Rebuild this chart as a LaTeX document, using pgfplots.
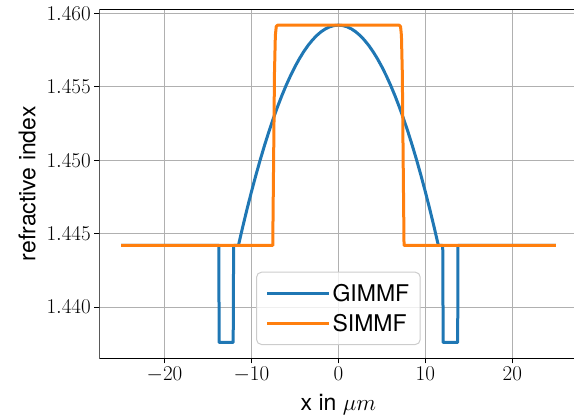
\documentclass[border=0pt]{standalone}
\usepackage{fix-cm}
\usepackage[no-math]{fontspec}
\usepackage{pgfplots}
\pgfplotsset{compat=1.18}
\newfontfamily\lab{TeX Gyre Heros}
\definecolor{mblue}{HTML}{1F77B4}
\definecolor{morange}{HTML}{FF7F0E}
\definecolor{mgrid}{HTML}{B0B0B0}
\definecolor{mleg}{HTML}{CCCCCC}
\begin{document}
\begin{tikzpicture}
\begin{axis}[
  at={(0,0)}, anchor=south west,
  scale only axis, width=478.2pt, height=349pt,
  xmin=-27.5, xmax=27.5, ymin=1.43652, ymax=1.46028,
  xtick={-20,-10,0,10,20},
  ytick={1.440,1.445,1.450,1.455,1.460},
  scaled y ticks=false,
  yticklabel style={/pgf/number format/.cd, fixed, fixed zerofill, precision=3},
  tick label style={font=\fontsize{21}{25}\selectfont},
  xtick pos=left, ytick pos=left,
  tick align=outside, major tick length=5pt,
  every tick/.style={black, line width=1pt},
  axis line style={draw=none},
  grid=major, major grid style={mgrid, line width=1pt},
  xlabel={x in $\mu m$}, ylabel={refractive index},
  label style={font=\lab\fontsize{23}{27}\selectfont},
  xlabel style={yshift=-5pt},
  ylabel style={yshift=4pt},
  legend style={at={(0.5,0.038)}, anchor=south, draw=mleg, line width=1pt, rounded corners=5pt,
    fill=white, fill opacity=0.8, draw opacity=1, text opacity=1,
    font=\lab\fontsize{23}{27}\selectfont,
    inner xsep=9pt, inner ysep=10pt, row sep=7pt},
  legend cell align=left,
  legend image code/.code={\draw[#1] (-5pt,0pt) -- (46pt,0pt); \path (-5pt,0pt) -- (57pt,0pt);},
]
\addplot[mblue, line width=3pt, line join=round] coordinates {
(-25,1.4442) (-13.75,1.4442) (-13.72,1.4376) (-12.1,1.4376) (-12.05,1.4442) (-11.5,1.4442)
(-11,1.445476) (-10.5,1.446695) (-10,1.447858) (-9.5,1.448964) (-9,1.450013)
(-8.5,1.451005) (-8,1.451941) (-7.5,1.452820) (-7,1.453642) (-6.5,1.454408)
(-6,1.455117) (-5.5,1.455769) (-5,1.456364) (-4.5,1.456903) (-4,1.457385)
(-3.5,1.457811) (-3,1.458179) (-2.5,1.458491) (-2,1.458746) (-1.5,1.458945)
(-1,1.459087) (-0.5,1.459172) (0,1.4592)
(0.5,1.459172) (1,1.459087) (1.5,1.458945) (2,1.458746) (2.5,1.458491)
(3,1.458179) (3.5,1.457811) (4,1.457385) (4.5,1.456903) (5,1.456364)
(5.5,1.455769) (6,1.455117) (6.5,1.454408) (7,1.453642) (7.5,1.452820)
(8,1.451941) (8.5,1.451005) (9,1.450013) (9.5,1.448964) (10,1.447858)
(10.5,1.446695) (11,1.445476) (11.5,1.4442)
(12.0,1.4442) (12.05,1.4376) (13.72,1.4376) (13.75,1.4442) (25,1.4442)
};
\addlegendentry{GIMMF}
\addplot[morange, line width=3pt, line join=round] coordinates {
(-25,1.4442) (-7.55,1.4442) (-7.45,1.4500) (-7.35,1.4560) (-7.25,1.4585) (-7.15,1.4591) (-7.0,1.4592)
(7.0,1.4592) (7.15,1.4591) (7.25,1.4585) (7.35,1.4560) (7.45,1.4500) (7.55,1.4442) (25,1.4442)
};
\addlegendentry{SIMMF}
\draw[black, line width=1pt, line cap=rect] (rel axis cs:1.1,1) -- (rel axis cs:0,1) -- (rel axis cs:0,0) -- (rel axis cs:1.1,0);
\end{axis}
\pgfresetboundingbox
\useasboundingbox (-99.3pt,-58.7pt) rectangle (474.7pt,358.3pt);
\end{tikzpicture}
\end{document}
